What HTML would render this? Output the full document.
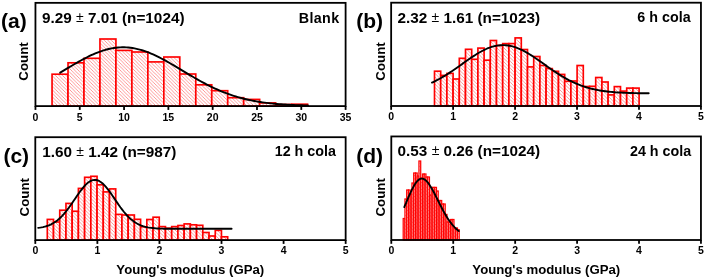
<!DOCTYPE html>
<html><head><meta charset="utf-8"><style>
html,body{margin:0;padding:0;background:#fff;}
svg{display:block;filter:blur(0.35px);}
text{font-family:"Liberation Sans",sans-serif;font-weight:bold;fill:#000;}
.tick{font-size:10.5px;text-anchor:middle;}
.stat{font-size:15.3px;}
.lab{font-size:14.3px;text-anchor:end;}
.plab{font-size:21px;}
.ylab{font-size:13.3px;text-anchor:middle;}
.xlab{font-size:13.2px;text-anchor:middle;}
.bar{fill:url(#hatch);stroke:#ff0000;stroke-width:1.65;}
.dbar{fill:url(#hatch);stroke:#ff0000;stroke-width:1.25;}
.fit{fill:none;stroke:#000;stroke-width:1.9;stroke-linecap:round;stroke-linejoin:round;}
</style></head><body>
<svg width="705" height="279" viewBox="0 0 705 279">
<defs>
<pattern id="hatch" patternUnits="userSpaceOnUse" x="1" width="3.5" height="3.5">
<rect width="3.5" height="3.5" fill="#fff"/>
<path d="M-1,-1 L4.5,4.5 M-1,2.5 L1,4.5 M2.5,-1 L4.5,1" stroke="#ff7575" stroke-width="0.75"/>
</pattern>
</defs>
<g>
<rect x="52.05" y="74.20" width="15.97" height="31.90" class="bar"/>
<rect x="68.02" y="62.80" width="15.97" height="43.30" class="bar"/>
<rect x="83.99" y="58.30" width="15.97" height="47.80" class="bar"/>
<rect x="99.96" y="39.00" width="15.97" height="67.10" class="bar"/>
<rect x="115.93" y="50.40" width="15.97" height="55.70" class="bar"/>
<rect x="131.90" y="52.00" width="15.97" height="54.10" class="bar"/>
<rect x="147.87" y="61.90" width="15.97" height="44.20" class="bar"/>
<rect x="163.84" y="57.00" width="15.97" height="49.10" class="bar"/>
<rect x="179.81" y="74.00" width="15.97" height="32.10" class="bar"/>
<rect x="195.78" y="84.80" width="15.97" height="21.30" class="bar"/>
<rect x="211.75" y="90.70" width="15.97" height="15.40" class="bar"/>
<rect x="227.72" y="97.70" width="15.97" height="8.40" class="bar"/>
<rect x="243.69" y="99.40" width="15.97" height="6.70" class="bar"/>
<rect x="259.66" y="102.90" width="15.97" height="3.20" class="bar"/>
<rect x="275.63" y="104.50" width="15.97" height="1.60" class="bar"/>
<rect x="291.60" y="104.20" width="15.97" height="1.90" class="bar"/>
<path d="M60.20,72.64 L62.27,71.40 L64.33,70.16 L66.40,68.92 L68.46,67.68 L70.53,66.44 L72.59,65.22 L74.66,64.01 L76.72,62.82 L78.78,61.65 L80.85,60.50 L82.92,59.38 L84.98,58.29 L87.05,57.23 L89.11,56.21 L91.18,55.23 L93.24,54.30 L95.31,53.41 L97.37,52.58 L99.44,51.79 L101.50,51.06 L103.56,50.39 L105.63,49.79 L107.70,49.24 L109.76,48.76 L111.83,48.34 L113.89,47.99 L115.96,47.72 L118.02,47.51 L120.09,47.37 L122.15,47.31 L124.22,47.31 L126.28,47.39 L128.35,47.54 L130.41,47.76 L132.48,48.05 L134.54,48.41 L136.61,48.84 L138.67,49.33 L140.74,49.89 L142.80,50.51 L144.87,51.19 L146.93,51.93 L149.00,52.72 L151.06,53.57 L153.12,54.46 L155.19,55.40 L157.25,56.39 L159.32,57.41 L161.38,58.48 L163.45,59.57 L165.52,60.70 L167.58,61.85 L169.65,63.03 L171.71,64.22 L173.78,65.44 L175.84,66.66 L177.91,67.89 L179.97,69.13 L182.04,70.38 L184.10,71.62 L186.17,72.86 L188.23,74.10 L190.30,75.32 L192.36,76.54 L194.43,77.74 L196.49,78.92 L198.56,80.09 L200.62,81.24 L202.69,82.36 L204.75,83.46 L206.81,84.54 L208.88,85.59 L210.94,86.61 L213.01,87.60 L215.07,88.56 L217.14,89.49 L219.21,90.39 L221.27,91.26 L223.34,92.10 L225.40,92.90 L227.46,93.68 L229.53,94.42 L231.60,95.13 L233.66,95.81 L235.73,96.45 L237.79,97.07 L239.86,97.66 L241.92,98.21 L243.99,98.74 L246.05,99.24 L248.12,99.71 L250.18,100.16 L252.25,100.58 L254.31,100.98 L256.38,101.35 L258.44,101.70 L260.50,102.02 L262.57,102.33 L264.63,102.62 L266.70,102.88 L268.77,103.13 L270.83,103.36 L272.90,103.58 L274.96,103.77 L277.02,103.96 L279.09,104.13 L281.16,104.29 L283.22,104.43 L285.29,104.57 L287.35,104.69 L289.42,104.80 L291.48,104.91 L293.55,105.00 L295.61,105.09 L297.68,105.17 L299.74,105.24 L301.81,105.31 L303.87,105.37 L305.94,105.42 L308.00,105.47" class="fit"/>
<rect x="35.45" y="2.85" width="310.15000000000003" height="103.25" fill="none" stroke="#000" stroke-width="1.8"/>
<line x1="35.45" y1="106.1" x2="35.45" y2="109.89999999999999" stroke="#000" stroke-width="1.8"/>
<text x="35.45" y="121.2" class="tick">0</text>
<line x1="79.76" y1="106.1" x2="79.76" y2="109.89999999999999" stroke="#000" stroke-width="1.8"/>
<text x="79.76" y="121.2" class="tick">5</text>
<line x1="124.06" y1="106.1" x2="124.06" y2="109.89999999999999" stroke="#000" stroke-width="1.8"/>
<text x="124.06" y="121.2" class="tick">10</text>
<line x1="168.37" y1="106.1" x2="168.37" y2="109.89999999999999" stroke="#000" stroke-width="1.8"/>
<text x="168.37" y="121.2" class="tick">15</text>
<line x1="212.68" y1="106.1" x2="212.68" y2="109.89999999999999" stroke="#000" stroke-width="1.8"/>
<text x="212.68" y="121.2" class="tick">20</text>
<line x1="256.99" y1="106.1" x2="256.99" y2="109.89999999999999" stroke="#000" stroke-width="1.8"/>
<text x="256.99" y="121.2" class="tick">25</text>
<line x1="301.29" y1="106.1" x2="301.29" y2="109.89999999999999" stroke="#000" stroke-width="1.8"/>
<text x="301.29" y="121.2" class="tick">30</text>
<line x1="345.60" y1="106.1" x2="345.60" y2="109.89999999999999" stroke="#000" stroke-width="1.8"/>
<text x="345.60" y="121.2" class="tick">35</text>
</g>
<rect x="434.50" y="71.20" width="6.20" height="34.80" class="bar"/>
<rect x="440.70" y="75.40" width="6.20" height="30.60" class="bar"/>
<rect x="446.90" y="73.40" width="6.20" height="32.60" class="bar"/>
<rect x="453.10" y="79.00" width="6.20" height="27.00" class="bar"/>
<rect x="459.30" y="58.30" width="6.20" height="47.70" class="bar"/>
<rect x="465.50" y="49.30" width="6.20" height="56.70" class="bar"/>
<rect x="471.70" y="59.30" width="6.20" height="46.70" class="bar"/>
<rect x="477.90" y="48.10" width="6.20" height="57.90" class="bar"/>
<rect x="484.10" y="60.20" width="6.20" height="45.80" class="bar"/>
<rect x="490.30" y="40.50" width="6.20" height="65.50" class="bar"/>
<rect x="496.50" y="45.50" width="6.20" height="60.50" class="bar"/>
<rect x="502.70" y="43.60" width="6.20" height="62.40" class="bar"/>
<rect x="508.90" y="43.60" width="6.20" height="62.40" class="bar"/>
<rect x="515.10" y="37.90" width="6.20" height="68.10" class="bar"/>
<rect x="521.30" y="49.50" width="6.20" height="56.50" class="bar"/>
<rect x="527.50" y="66.90" width="6.20" height="39.10" class="bar"/>
<rect x="533.70" y="56.50" width="6.20" height="49.50" class="bar"/>
<rect x="539.90" y="65.50" width="6.20" height="40.50" class="bar"/>
<rect x="546.10" y="68.60" width="6.20" height="37.40" class="bar"/>
<rect x="552.30" y="71.30" width="6.20" height="34.70" class="bar"/>
<rect x="558.50" y="74.40" width="6.20" height="31.60" class="bar"/>
<rect x="564.70" y="81.30" width="6.20" height="24.70" class="bar"/>
<rect x="570.90" y="81.00" width="6.20" height="25.00" class="bar"/>
<rect x="577.10" y="65.50" width="6.20" height="40.50" class="bar"/>
<rect x="583.30" y="86.50" width="6.20" height="19.50" class="bar"/>
<rect x="589.50" y="86.30" width="6.20" height="19.70" class="bar"/>
<rect x="595.70" y="77.50" width="6.20" height="28.50" class="bar"/>
<rect x="601.90" y="82.00" width="6.20" height="24.00" class="bar"/>
<rect x="608.10" y="94.90" width="6.20" height="11.10" class="bar"/>
<rect x="614.30" y="86.60" width="6.20" height="19.40" class="bar"/>
<rect x="620.50" y="91.10" width="6.20" height="14.90" class="bar"/>
<rect x="626.70" y="88.10" width="6.20" height="17.90" class="bar"/>
<rect x="632.90" y="88.10" width="6.20" height="17.90" class="bar"/>
<path d="M432.00,82.62 L433.81,81.77 L435.61,80.89 L437.42,79.96 L439.22,78.99 L441.03,77.99 L442.83,76.94 L444.64,75.86 L446.45,74.74 L448.25,73.60 L450.06,72.42 L451.86,71.21 L453.67,69.98 L455.48,68.73 L457.28,67.46 L459.09,66.18 L460.89,64.90 L462.70,63.61 L464.50,62.32 L466.31,61.04 L468.12,59.77 L469.92,58.52 L471.73,57.29 L473.53,56.09 L475.34,54.93 L477.15,53.81 L478.95,52.73 L480.76,51.71 L482.56,50.74 L484.37,49.84 L486.18,49.00 L487.98,48.23 L489.79,47.54 L491.59,46.93 L493.40,46.41 L495.20,45.97 L497.01,45.61 L498.82,45.35 L500.62,45.18 L502.43,45.10 L504.23,45.12 L506.04,45.23 L507.85,45.44 L509.65,45.73 L511.46,46.12 L513.26,46.59 L515.07,47.15 L516.87,47.79 L518.68,48.51 L520.49,49.30 L522.29,50.16 L524.10,51.09 L525.90,52.08 L527.71,53.12 L529.51,54.21 L531.32,55.35 L533.13,56.53 L534.93,57.74 L536.74,58.97 L538.54,60.23 L540.35,61.50 L542.16,62.79 L543.96,64.08 L545.77,65.37 L547.57,66.65 L549.38,67.93 L551.19,69.19 L552.99,70.43 L554.80,71.65 L556.60,72.85 L558.41,74.02 L560.21,75.16 L562.02,76.26 L563.83,77.33 L565.63,78.36 L567.44,79.35 L569.24,80.31 L571.05,81.22 L572.86,82.09 L574.66,82.91 L576.47,83.70 L578.27,84.45 L580.08,85.15 L581.88,85.81 L583.69,86.44 L585.50,87.02 L587.30,87.57 L589.11,88.08 L590.91,88.55 L592.72,88.99 L594.53,89.40 L596.33,89.78 L598.14,90.13 L599.94,90.45 L601.75,90.74 L603.55,91.01 L605.36,91.26 L607.17,91.48 L608.97,91.69 L610.78,91.87 L612.58,92.04 L614.39,92.19 L616.20,92.33 L618.00,92.45 L619.81,92.57 L621.61,92.66 L623.42,92.75 L625.22,92.83 L627.03,92.90 L628.84,92.97 L630.64,93.02 L632.45,93.07 L634.25,93.11 L636.06,93.15 L637.87,93.18 L639.67,93.21 L641.48,93.24 L643.28,93.26 L645.09,93.28 L646.89,93.30 L648.70,93.31" class="fit"/>
<rect x="391.15" y="2.7" width="309.80000000000007" height="103.3" fill="none" stroke="#000" stroke-width="1.8"/>
<line x1="391.15" y1="106.0" x2="391.15" y2="109.8" stroke="#000" stroke-width="1.8"/>
<text x="391.15" y="120.2" class="tick">0</text>
<line x1="453.11" y1="106.0" x2="453.11" y2="109.8" stroke="#000" stroke-width="1.8"/>
<text x="453.11" y="120.2" class="tick">1</text>
<line x1="515.07" y1="106.0" x2="515.07" y2="109.8" stroke="#000" stroke-width="1.8"/>
<text x="515.07" y="120.2" class="tick">2</text>
<line x1="577.03" y1="106.0" x2="577.03" y2="109.8" stroke="#000" stroke-width="1.8"/>
<text x="577.03" y="120.2" class="tick">3</text>
<line x1="638.99" y1="106.0" x2="638.99" y2="109.8" stroke="#000" stroke-width="1.8"/>
<text x="638.99" y="120.2" class="tick">4</text>
<line x1="700.95" y1="106.0" x2="700.95" y2="109.8" stroke="#000" stroke-width="1.8"/>
<text x="700.95" y="120.2" class="tick">5</text>
<rect x="47.30" y="219.40" width="6.22" height="20.70" class="bar"/>
<rect x="53.52" y="222.00" width="6.22" height="18.10" class="bar"/>
<rect x="59.74" y="210.20" width="6.22" height="29.90" class="bar"/>
<rect x="65.96" y="203.40" width="6.22" height="36.70" class="bar"/>
<rect x="72.18" y="211.25" width="6.22" height="28.85" class="bar"/>
<rect x="78.40" y="188.40" width="6.22" height="51.70" class="bar"/>
<rect x="84.62" y="177.30" width="6.22" height="62.80" class="bar"/>
<rect x="90.84" y="176.30" width="6.22" height="63.80" class="bar"/>
<rect x="97.06" y="184.80" width="6.22" height="55.30" class="bar"/>
<rect x="103.28" y="191.90" width="6.22" height="48.20" class="bar"/>
<rect x="109.50" y="188.90" width="6.22" height="51.20" class="bar"/>
<rect x="115.72" y="214.40" width="6.22" height="25.70" class="bar"/>
<rect x="121.94" y="215.00" width="6.22" height="25.10" class="bar"/>
<rect x="128.16" y="215.00" width="6.22" height="25.10" class="bar"/>
<rect x="134.38" y="219.30" width="6.22" height="20.80" class="bar"/>
<rect x="140.60" y="226.80" width="6.22" height="13.30" class="bar"/>
<rect x="146.82" y="219.50" width="6.22" height="20.60" class="bar"/>
<rect x="153.04" y="217.20" width="6.22" height="22.90" class="bar"/>
<rect x="159.26" y="226.60" width="6.22" height="13.50" class="bar"/>
<rect x="165.48" y="228.20" width="6.22" height="11.90" class="bar"/>
<rect x="171.70" y="226.60" width="6.22" height="13.50" class="bar"/>
<rect x="177.92" y="225.50" width="6.22" height="14.60" class="bar"/>
<rect x="184.14" y="223.90" width="6.22" height="16.20" class="bar"/>
<rect x="190.36" y="224.80" width="6.22" height="15.30" class="bar"/>
<rect x="196.58" y="225.30" width="6.22" height="14.80" class="bar"/>
<rect x="202.80" y="232.50" width="6.22" height="7.60" class="bar"/>
<rect x="209.02" y="236.00" width="6.22" height="4.10" class="bar"/>
<rect x="215.24" y="230.40" width="6.22" height="9.70" class="bar"/>
<rect x="221.46" y="236.80" width="6.22" height="3.30" class="bar"/>
<path d="M38.20,227.91 L39.81,227.68 L41.42,227.41 L43.04,227.08 L44.65,226.69 L46.26,226.23 L47.87,225.68 L49.48,225.05 L51.09,224.31 L52.70,223.46 L54.32,222.50 L55.93,221.40 L57.54,220.18 L59.15,218.81 L60.76,217.31 L62.38,215.66 L63.99,213.88 L65.60,211.96 L67.21,209.92 L68.82,207.77 L70.43,205.52 L72.05,203.20 L73.66,200.83 L75.27,198.45 L76.88,196.07 L78.49,193.73 L80.10,191.47 L81.72,189.32 L83.33,187.32 L84.94,185.50 L86.55,183.89 L88.16,182.52 L89.77,181.42 L91.38,180.61 L93.00,180.10 L94.61,179.90 L96.22,180.02 L97.83,180.46 L99.44,181.20 L101.06,182.23 L102.67,183.54 L104.28,185.09 L105.89,186.87 L107.50,188.83 L109.11,190.95 L110.72,193.18 L112.34,195.51 L113.95,197.88 L115.56,200.27 L117.17,202.64 L118.78,204.97 L120.39,207.24 L122.01,209.41 L123.62,211.48 L125.23,213.43 L126.84,215.25 L128.45,216.93 L130.06,218.47 L131.68,219.87 L133.29,221.12 L134.90,222.25 L136.51,223.24 L138.12,224.12 L139.74,224.88 L141.35,225.54 L142.96,226.11 L144.57,226.59 L146.18,227.00 L147.79,227.34 L149.40,227.62 L151.02,227.86 L152.63,228.05 L154.24,228.21 L155.85,228.34 L157.46,228.44 L159.07,228.52 L160.69,228.58 L162.30,228.64 L163.91,228.68 L165.52,228.71 L167.13,228.73 L168.75,228.75 L170.36,228.76 L171.97,228.77 L173.58,228.78 L175.19,228.78 L176.80,228.79 L178.42,228.79 L180.03,228.79 L181.64,228.80 L183.25,228.80 L184.86,228.80 L186.47,228.80 L188.08,228.80 L189.70,228.80 L191.31,228.80 L192.92,228.80 L194.53,228.80 L196.14,228.80 L197.75,228.80 L199.37,228.80 L200.98,228.80 L202.59,228.80 L204.20,228.80 L205.81,228.80 L207.42,228.80 L209.04,228.80 L210.65,228.80 L212.26,228.80 L213.87,228.80 L215.48,228.80 L217.09,228.80 L218.71,228.80 L220.32,228.80 L221.93,228.80 L223.54,228.80 L225.15,228.80 L226.76,228.80 L228.38,228.80 L229.99,228.80 L231.60,228.80" class="fit"/>
<rect x="35.3" y="137.2" width="310.34999999999997" height="102.9" fill="none" stroke="#000" stroke-width="1.8"/>
<line x1="35.30" y1="240.1" x2="35.30" y2="243.9" stroke="#000" stroke-width="1.8"/>
<text x="35.30" y="254.0" class="tick">0</text>
<line x1="97.37" y1="240.1" x2="97.37" y2="243.9" stroke="#000" stroke-width="1.8"/>
<text x="97.37" y="254.0" class="tick">1</text>
<line x1="159.44" y1="240.1" x2="159.44" y2="243.9" stroke="#000" stroke-width="1.8"/>
<text x="159.44" y="254.0" class="tick">2</text>
<line x1="221.51" y1="240.1" x2="221.51" y2="243.9" stroke="#000" stroke-width="1.8"/>
<text x="221.51" y="254.0" class="tick">3</text>
<line x1="283.58" y1="240.1" x2="283.58" y2="243.9" stroke="#000" stroke-width="1.8"/>
<text x="283.58" y="254.0" class="tick">4</text>
<line x1="345.65" y1="240.1" x2="345.65" y2="243.9" stroke="#000" stroke-width="1.8"/>
<text x="345.65" y="254.0" class="tick">5</text>
<rect x="403.20" y="218.50" width="1.75" height="21.50" class="dbar"/>
<rect x="404.95" y="199.00" width="1.75" height="41.00" class="dbar"/>
<rect x="406.70" y="190.00" width="1.75" height="50.00" class="dbar"/>
<rect x="408.45" y="190.00" width="1.75" height="50.00" class="dbar"/>
<rect x="410.20" y="194.00" width="1.75" height="46.00" class="dbar"/>
<rect x="411.95" y="183.00" width="1.75" height="57.00" class="dbar"/>
<rect x="413.70" y="173.00" width="1.75" height="67.00" class="dbar"/>
<rect x="415.45" y="173.00" width="1.75" height="67.00" class="dbar"/>
<rect x="417.20" y="176.00" width="1.75" height="64.00" class="dbar"/>
<rect x="418.95" y="161.00" width="1.75" height="79.00" class="dbar"/>
<rect x="420.70" y="178.00" width="1.75" height="62.00" class="dbar"/>
<rect x="422.45" y="174.00" width="1.75" height="66.00" class="dbar"/>
<rect x="424.20" y="174.00" width="1.75" height="66.00" class="dbar"/>
<rect x="425.95" y="177.00" width="1.75" height="63.00" class="dbar"/>
<rect x="427.70" y="177.00" width="1.75" height="63.00" class="dbar"/>
<rect x="429.45" y="195.00" width="1.75" height="45.00" class="dbar"/>
<rect x="431.20" y="187.40" width="1.75" height="52.60" class="dbar"/>
<rect x="432.95" y="187.40" width="1.75" height="52.60" class="dbar"/>
<rect x="434.70" y="187.40" width="1.75" height="52.60" class="dbar"/>
<rect x="436.45" y="191.00" width="1.75" height="49.00" class="dbar"/>
<rect x="438.20" y="200.50" width="1.75" height="39.50" class="dbar"/>
<rect x="439.95" y="200.50" width="1.75" height="39.50" class="dbar"/>
<rect x="441.70" y="204.00" width="1.75" height="36.00" class="dbar"/>
<rect x="443.45" y="204.00" width="1.75" height="36.00" class="dbar"/>
<rect x="445.20" y="214.40" width="1.75" height="25.60" class="dbar"/>
<rect x="446.95" y="222.00" width="1.75" height="18.00" class="dbar"/>
<rect x="448.70" y="222.00" width="1.75" height="18.00" class="dbar"/>
<rect x="450.45" y="219.50" width="1.75" height="20.50" class="dbar"/>
<rect x="452.20" y="219.50" width="1.75" height="20.50" class="dbar"/>
<rect x="453.95" y="228.00" width="1.75" height="12.00" class="dbar"/>
<rect x="455.70" y="228.00" width="1.75" height="12.00" class="dbar"/>
<rect x="457.45" y="229.70" width="1.75" height="10.30" class="dbar"/>
<path d="M404.30,207.04 L404.75,205.98 L405.21,204.91 L405.66,203.83 L406.12,202.76 L406.57,201.68 L407.03,200.61 L407.48,199.54 L407.93,198.48 L408.39,197.42 L408.84,196.37 L409.30,195.33 L409.75,194.31 L410.20,193.30 L410.66,192.31 L411.11,191.34 L411.57,190.39 L412.02,189.46 L412.48,188.56 L412.93,187.69 L413.38,186.85 L413.84,186.04 L414.29,185.26 L414.75,184.52 L415.20,183.81 L415.65,183.15 L416.11,182.52 L416.56,181.94 L417.02,181.40 L417.47,180.90 L417.93,180.45 L418.38,180.05 L418.83,179.69 L419.29,179.38 L419.74,179.13 L420.20,178.92 L420.65,178.77 L421.10,178.66 L421.56,178.61 L422.01,178.61 L422.47,178.65 L422.92,178.75 L423.38,178.89 L423.83,179.08 L424.28,179.31 L424.74,179.59 L425.19,179.91 L425.65,180.28 L426.10,180.68 L426.55,181.13 L427.01,181.61 L427.46,182.13 L427.92,182.68 L428.37,183.26 L428.82,183.88 L429.28,184.53 L429.73,185.21 L430.19,185.91 L430.64,186.64 L431.10,187.39 L431.55,188.16 L432.00,188.95 L432.46,189.77 L432.91,190.59 L433.37,191.44 L433.82,192.29 L434.28,193.16 L434.73,194.04 L435.18,194.93 L435.64,195.83 L436.09,196.73 L436.55,197.63 L437.00,198.54 L437.45,199.45 L437.91,200.37 L438.36,201.28 L438.82,202.19 L439.27,203.09 L439.73,204.00 L440.18,204.89 L440.63,205.79 L441.09,206.67 L441.54,207.55 L442.00,208.42 L442.45,209.27 L442.90,210.12 L443.36,210.96 L443.81,211.79 L444.27,212.60 L444.72,213.41 L445.18,214.20 L445.63,214.97 L446.08,215.74 L446.54,216.49 L446.99,217.22 L447.45,217.94 L447.90,218.65 L448.35,219.34 L448.81,220.01 L449.26,220.67 L449.72,221.32 L450.17,221.95 L450.62,222.56 L451.08,223.16 L451.53,223.74 L451.99,224.31 L452.44,224.87 L452.90,225.40 L453.35,225.93 L453.80,226.43 L454.26,226.93 L454.71,227.41 L455.17,227.87 L455.62,228.32 L456.07,228.76 L456.53,229.18 L456.98,229.59 L457.44,229.99 L457.89,230.37 L458.35,230.74 L458.80,231.10" class="fit"/>
<rect x="391.3" y="136.45" width="309.65000000000003" height="103.55000000000001" fill="none" stroke="#000" stroke-width="1.8"/>
<line x1="391.30" y1="240.0" x2="391.30" y2="243.8" stroke="#000" stroke-width="1.8"/>
<text x="391.30" y="253.5" class="tick">0</text>
<line x1="453.23" y1="240.0" x2="453.23" y2="243.8" stroke="#000" stroke-width="1.8"/>
<text x="453.23" y="253.5" class="tick">1</text>
<line x1="515.16" y1="240.0" x2="515.16" y2="243.8" stroke="#000" stroke-width="1.8"/>
<text x="515.16" y="253.5" class="tick">2</text>
<line x1="577.09" y1="240.0" x2="577.09" y2="243.8" stroke="#000" stroke-width="1.8"/>
<text x="577.09" y="253.5" class="tick">3</text>
<line x1="639.02" y1="240.0" x2="639.02" y2="243.8" stroke="#000" stroke-width="1.8"/>
<text x="639.02" y="253.5" class="tick">4</text>
<line x1="700.95" y1="240.0" x2="700.95" y2="243.8" stroke="#000" stroke-width="1.8"/>
<text x="700.95" y="253.5" class="tick">5</text>

<text x="1" y="27.8" class="plab">(a)</text>
<text x="356.3" y="27.6" class="plab">(b)</text>
<text x="3.4" y="163.2" class="plab">(c)</text>
<text x="356.3" y="162.5" class="plab">(d)</text>

<text x="42" y="23" class="stat">9.29 <tspan font-weight="normal" font-size="14" dy="-0.8">±</tspan><tspan dy="0.8"> </tspan>7.01 (n=1024)</text>
<text x="397.5" y="23" class="stat">2.32 <tspan font-weight="normal" font-size="14" dy="-0.8">±</tspan><tspan dy="0.8"> </tspan>1.61 (n=1023)</text>
<text x="42.3" y="157" class="stat">1.60 <tspan font-weight="normal" font-size="14" dy="-0.8">±</tspan><tspan dy="0.8"> </tspan>1.42 (n=987)</text>
<text x="397.6" y="156" class="stat">0.53 <tspan font-weight="normal" font-size="14" dy="-0.8">±</tspan><tspan dy="0.8"> </tspan>0.26 (n=1024)</text>

<text x="339.6" y="22.9" class="lab" style="letter-spacing:0.4px">Blank</text>
<text x="690.6" y="22.2" class="lab">6 h cola</text>
<text x="335.9" y="156.2" class="lab">12 h cola</text>
<text x="691.2" y="156" class="lab">24 h cola</text>

<text transform="translate(28 61.5) rotate(-90)" class="ylab">Count</text>
<text transform="translate(385 61.5) rotate(-90)" class="ylab">Count</text>
<text transform="translate(29.3 197.2) rotate(-90)" class="ylab">Count</text>
<text transform="translate(385.2 197.3) rotate(-90)" class="ylab">Count</text>

<text x="190.3" y="273.7" class="xlab">Young's modulus (GPa)</text>
<text x="546.3" y="273.5" class="xlab">Young's modulus (GPa)</text>

</svg>
</body></html>
